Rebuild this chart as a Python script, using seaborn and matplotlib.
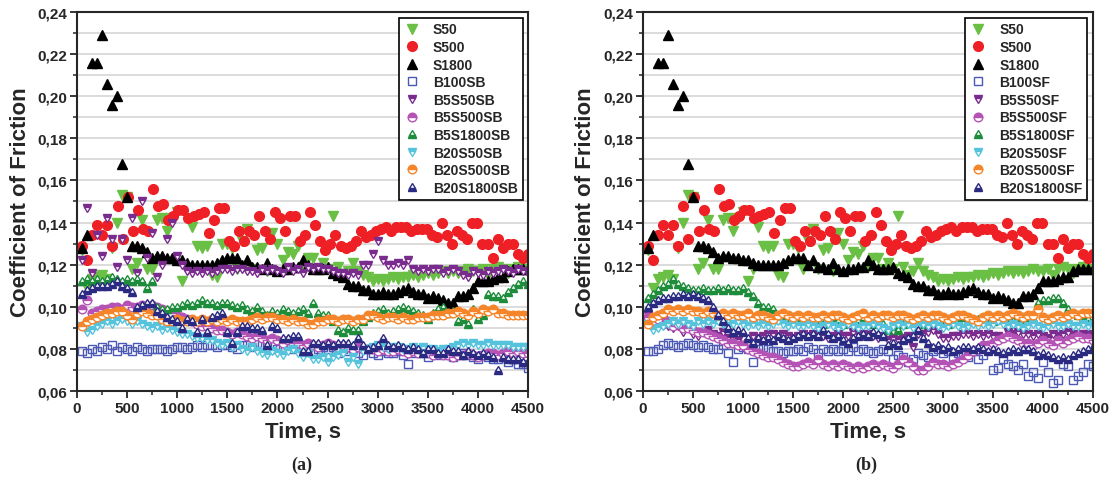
import numpy as np
import matplotlib
matplotlib.use("Agg")
import matplotlib.pyplot as plt
from matplotlib.ticker import MultipleLocator, FuncFormatter
import seaborn as sns

S50 = [0.127, 0.109, 0.113, 0.114, 0.115, 0.113, 0.128, 0.140, 0.153, 0.152,
       0.118, 0.121, 0.141, 0.118, 0.118, 0.141, 0.142, 0.136, 0.142, 0.145,
       0.112, 0.118, 0.138, 0.129, 0.128, 0.129, 0.115, 0.114, 0.130, 0.130,
       0.128, 0.118, 0.131, 0.137, 0.118, 0.127, 0.128, 0.117, 0.135, 0.130,
       0.122, 0.126, 0.125, 0.129, 0.119, 0.123, 0.123, 0.118, 0.121, 0.118,
       0.143, 0.119, 0.115, 0.117, 0.121, 0.117, 0.115, 0.114, 0.112, 0.113,
       0.112, 0.113, 0.114, 0.113, 0.114, 0.114, 0.115, 0.114, 0.115, 0.116,
       0.115, 0.116, 0.117, 0.116, 0.117, 0.116, 0.117, 0.118, 0.117, 0.117,
       0.118, 0.115, 0.118, 0.119, 0.118, 0.116, 0.118, 0.119, 0.118, 0.118]
S500 = [0.129, 0.122, 0.134, 0.139, 0.134, 0.139, 0.129, 0.148, 0.132, 0.152,
        0.136, 0.146, 0.137, 0.136, 0.156, 0.148, 0.149, 0.141, 0.143, 0.146,
        0.146, 0.142, 0.143, 0.144, 0.145, 0.135, 0.141, 0.147, 0.147, 0.131,
        0.129, 0.136, 0.131, 0.136, 0.134, 0.143, 0.136, 0.132, 0.145, 0.142,
        0.136, 0.143, 0.143, 0.131, 0.134, 0.145, 0.139, 0.131, 0.127, 0.130,
        0.134, 0.129, 0.128, 0.129, 0.131, 0.136, 0.133, 0.134, 0.136, 0.137,
        0.138, 0.136, 0.138, 0.138, 0.138, 0.136, 0.137, 0.137, 0.137, 0.134,
        0.133, 0.140, 0.134, 0.130, 0.136, 0.134, 0.132, 0.140, 0.140, 0.130,
        0.130, 0.123, 0.132, 0.128, 0.130, 0.130, 0.125, 0.123, 0.125]
S1800 = [0.128, 0.134, 0.216, 0.216, 0.229, 0.206, 0.196, 0.200, 0.168, 0.152,
         0.129, 0.129, 0.128, 0.126, 0.123, 0.124, 0.124, 0.123, 0.123, 0.122,
         0.122, 0.121, 0.120, 0.120, 0.120, 0.120, 0.120, 0.121, 0.122, 0.123,
         0.123, 0.123, 0.120, 0.122, 0.119, 0.119, 0.118, 0.121, 0.118, 0.117,
         0.118, 0.118, 0.119, 0.119, 0.122, 0.120, 0.118, 0.118, 0.118, 0.119,
         0.116, 0.115, 0.114, 0.111, 0.110, 0.110, 0.108, 0.108, 0.106, 0.106,
         0.107, 0.106, 0.106, 0.107, 0.108, 0.109, 0.107, 0.106, 0.106, 0.104,
         0.105, 0.104, 0.103, 0.102, 0.102, 0.105, 0.105, 0.106, 0.109, 0.112,
         0.112, 0.112, 0.113, 0.114, 0.114, 0.117, 0.118, 0.118, 0.118, 0.118]

# panel (a), SB series
B100SB = [0.079, 0.078, 0.080, 0.079, 0.081, 0.080, 0.082, 0.079, 0.081, 0.080,
          0.079, 0.081, 0.080, 0.079, 0.080, 0.080, 0.080, 0.079, 0.080, 0.081,
          0.081, 0.080, 0.081, 0.082, 0.081, 0.082, 0.082, 0.081, 0.082, 0.082,
          0.081, 0.080, 0.082, 0.082, 0.081, 0.083, 0.082, 0.081, 0.082, 0.080,
          0.081, 0.082, 0.080, 0.081, 0.080, 0.081, 0.079, 0.080, 0.081, 0.080,
          0.081, 0.078, 0.080, 0.079, 0.080, 0.078, 0.077, 0.080, 0.078, 0.077,
          0.079, 0.078, 0.078, 0.079, 0.077, 0.073, 0.078, 0.079, 0.078, 0.076,
          0.078, 0.077, 0.078, 0.077, 0.076, 0.077, 0.078, 0.077, 0.076, 0.075,
          0.077, 0.076, 0.075, 0.075, 0.076, 0.074, 0.075, 0.073, 0.073, 0.071]
B5S50SB = [0.122, 0.147, 0.116, 0.134, 0.124, 0.142, 0.132, 0.119, 0.132, 0.122,
           0.142, 0.116, 0.150, 0.123, 0.135, 0.114, 0.120, 0.132, 0.140, 0.124,
           0.120, 0.117, 0.116, 0.117, 0.116, 0.117, 0.116, 0.117, 0.118, 0.118,
           0.117, 0.118, 0.118, 0.117, 0.117, 0.116, 0.118, 0.117, 0.118, 0.117,
           0.116, 0.119, 0.117, 0.118, 0.116, 0.119, 0.118, 0.119, 0.118, 0.118,
           0.117, 0.116, 0.116, 0.115, 0.116, 0.115, 0.120, 0.120, 0.125, 0.131,
           0.122, 0.120, 0.120, 0.121, 0.120, 0.122, 0.118, 0.117, 0.118, 0.117,
           0.118, 0.118, 0.116, 0.117, 0.118, 0.117, 0.115, 0.114, 0.117, 0.116,
           0.115, 0.117, 0.116, 0.117, 0.118, 0.117, 0.116, 0.118, 0.117, 0.116]
B5S500SB = [0.099, 0.103, 0.097, 0.098, 0.099, 0.099, 0.100, 0.100, 0.099, 0.101,
            0.100, 0.100, 0.101, 0.100, 0.101, 0.100, 0.099, 0.098, 0.097, 0.096,
            0.095, 0.094, 0.093, 0.092, 0.091, 0.091, 0.090, 0.089, 0.089, 0.088,
            0.087, 0.088, 0.087, 0.086, 0.085, 0.086, 0.085, 0.084, 0.085, 0.084,
            0.083, 0.084, 0.083, 0.083, 0.082, 0.083, 0.082, 0.081, 0.082, 0.083,
            0.082, 0.081, 0.082, 0.081, 0.080, 0.081, 0.080, 0.080, 0.080, 0.079,
            0.080, 0.079, 0.079, 0.080, 0.079, 0.078, 0.079, 0.078, 0.079, 0.078,
            0.077, 0.078, 0.077, 0.077, 0.076, 0.077, 0.077, 0.078, 0.077, 0.076,
            0.077, 0.078, 0.078, 0.077, 0.078, 0.079, 0.078, 0.079, 0.078, 0.078]
B5S1800SB = [0.112, 0.113, 0.112, 0.113, 0.112, 0.113, 0.114, 0.113, 0.112, 0.113,
             0.112, 0.113, 0.112, 0.109, 0.112, 0.100, 0.099, 0.099, 0.100, 0.100,
             0.101, 0.102, 0.101, 0.102, 0.103, 0.102, 0.102, 0.101, 0.102, 0.102,
             0.101, 0.100, 0.101, 0.099, 0.098, 0.100, 0.098, 0.096, 0.098, 0.097,
             0.099, 0.098, 0.097, 0.098, 0.099, 0.097, 0.102, 0.097, 0.096, 0.096,
             0.093, 0.089, 0.088, 0.090, 0.089, 0.089, 0.093, 0.095, 0.097, 0.098,
             0.099, 0.097, 0.098, 0.099, 0.100, 0.099, 0.098, 0.097, 0.096, 0.094,
             0.097, 0.099, 0.100, 0.097, 0.098, 0.093, 0.094, 0.092, 0.099, 0.094,
             0.096, 0.106, 0.105, 0.105, 0.104, 0.107, 0.109, 0.111, 0.112, 0.111]
B20S50SB = [0.091, 0.088, 0.089, 0.091, 0.092, 0.093, 0.092, 0.093, 0.094, 0.093,
            0.092, 0.093, 0.092, 0.091, 0.090, 0.091, 0.089, 0.090, 0.089, 0.088,
            0.087, 0.087, 0.086, 0.085, 0.085, 0.084, 0.084, 0.083, 0.082, 0.083,
            0.081, 0.082, 0.080, 0.079, 0.081, 0.079, 0.078, 0.077, 0.079, 0.078,
            0.077, 0.079, 0.080, 0.078, 0.076, 0.078, 0.075, 0.075, 0.076, 0.074,
            0.076, 0.077, 0.078, 0.074, 0.076, 0.073, 0.079, 0.080, 0.081, 0.082,
            0.081, 0.080, 0.081, 0.081, 0.080, 0.080, 0.081, 0.080, 0.081, 0.080,
            0.080, 0.079, 0.080, 0.080, 0.081, 0.082, 0.083, 0.082, 0.083, 0.082,
            0.082, 0.083, 0.082, 0.082, 0.082, 0.082, 0.081, 0.081, 0.081, 0.081]
B20S500SB = [0.091, 0.093, 0.094, 0.095, 0.096, 0.097, 0.097, 0.098, 0.098, 0.096,
             0.094, 0.097, 0.098, 0.097, 0.096, 0.096, 0.094, 0.093, 0.093, 0.094,
             0.093, 0.093, 0.094, 0.093, 0.094, 0.093, 0.094, 0.093, 0.094, 0.093,
             0.094, 0.093, 0.093, 0.093, 0.094, 0.095, 0.094, 0.095, 0.095, 0.094,
             0.094, 0.093, 0.094, 0.093, 0.093, 0.092, 0.092, 0.093, 0.093, 0.094,
             0.094, 0.093, 0.094, 0.094, 0.093, 0.094, 0.094, 0.096, 0.096, 0.095,
             0.094, 0.095, 0.095, 0.094, 0.095, 0.094, 0.094, 0.095, 0.095, 0.095,
             0.096, 0.096, 0.096, 0.097, 0.097, 0.098, 0.097, 0.096, 0.098, 0.097,
             0.099, 0.098, 0.099, 0.097, 0.097, 0.096, 0.096, 0.096, 0.096, 0.096]
B20S1800SB = [0.106, 0.108, 0.109, 0.110, 0.110, 0.110, 0.111, 0.112, 0.110, 0.109,
              0.107, 0.100, 0.101, 0.102, 0.102, 0.098, 0.097, 0.095, 0.094, 0.093,
              0.090, 0.094, 0.093, 0.088, 0.094, 0.088, 0.095, 0.096, 0.097, 0.088,
              0.083, 0.088, 0.091, 0.091, 0.090, 0.090, 0.089, 0.082, 0.091, 0.090,
              0.085, 0.085, 0.086, 0.086, 0.079, 0.079, 0.083, 0.083, 0.082, 0.083,
              0.082, 0.083, 0.083, 0.083, 0.082, 0.085, 0.082, 0.080, 0.081, 0.082,
              0.085, 0.082, 0.081, 0.082, 0.081, 0.080, 0.081, 0.080, 0.078, 0.080,
              0.080, 0.078, 0.078, 0.080, 0.079, 0.079, 0.077, 0.079, 0.078, 0.077,
              0.078, 0.077, 0.076, 0.070, 0.076, 0.075, 0.075, 0.075, 0.074, 0.074]

# panel (b), SF series
B100SF = [0.079, 0.079, 0.080, 0.082, 0.083, 0.082, 0.081, 0.082, 0.083, 0.082,
          0.081, 0.082, 0.081, 0.080, 0.080, 0.082, 0.078, 0.074, 0.080, 0.081,
          0.080, 0.074, 0.080, 0.081, 0.080, 0.079, 0.079, 0.078, 0.079, 0.079,
          0.080, 0.079, 0.081, 0.080, 0.078, 0.080, 0.079, 0.080, 0.079, 0.080,
          0.079, 0.081, 0.079, 0.080, 0.079, 0.078, 0.079, 0.080, 0.079, 0.075,
          0.077, 0.076, 0.074, 0.075, 0.078, 0.077, 0.076, 0.079, 0.080, 0.078,
          0.079, 0.076, 0.078, 0.077, 0.076, 0.079, 0.075, 0.077, 0.080, 0.070,
          0.071, 0.075, 0.073, 0.072, 0.070, 0.073, 0.067, 0.069, 0.066, 0.074,
          0.069, 0.064, 0.065, 0.073, 0.072, 0.065, 0.067, 0.069, 0.073, 0.072]
B5S50SF = [0.096, 0.093, 0.092, 0.094, 0.091, 0.090, 0.091, 0.088, 0.090, 0.087,
           0.086, 0.088, 0.089, 0.087, 0.086, 0.088, 0.085, 0.087, 0.084, 0.082,
           0.083, 0.086, 0.085, 0.086, 0.087, 0.087, 0.086, 0.087, 0.086, 0.085,
           0.086, 0.087, 0.086, 0.087, 0.086, 0.086, 0.085, 0.086, 0.087, 0.086,
           0.086, 0.088, 0.087, 0.086, 0.087, 0.086, 0.085, 0.086, 0.084, 0.085,
           0.084, 0.085, 0.086, 0.081, 0.087, 0.087, 0.088, 0.089, 0.087, 0.085,
           0.085, 0.086, 0.086, 0.087, 0.087, 0.086, 0.087, 0.086, 0.087, 0.086,
           0.086, 0.085, 0.088, 0.087, 0.088, 0.087, 0.087, 0.086, 0.087, 0.086,
           0.085, 0.087, 0.086, 0.087, 0.088, 0.087, 0.086, 0.087, 0.087, 0.086]
B5S500SF = [0.095, 0.093, 0.094, 0.092, 0.093, 0.091, 0.092, 0.090, 0.090, 0.089,
            0.088, 0.088, 0.087, 0.086, 0.085, 0.084, 0.083, 0.083, 0.082, 0.082,
            0.080, 0.079, 0.078, 0.077, 0.076, 0.076, 0.075, 0.074, 0.073, 0.072,
            0.072, 0.073, 0.074, 0.073, 0.075, 0.073, 0.072, 0.073, 0.072, 0.073,
            0.072, 0.071, 0.072, 0.071, 0.072, 0.073, 0.072, 0.073, 0.072, 0.071,
            0.073, 0.075, 0.074, 0.072, 0.070, 0.070, 0.072, 0.074, 0.073, 0.073,
            0.072, 0.073, 0.074, 0.075, 0.077, 0.079, 0.080, 0.082, 0.082, 0.083,
            0.084, 0.085, 0.086, 0.085, 0.084, 0.083, 0.083, 0.082, 0.083, 0.084,
            0.083, 0.082, 0.084, 0.083, 0.084, 0.085, 0.086, 0.085, 0.085, 0.084]
B5S1800SF = [0.104, 0.106, 0.108, 0.110, 0.111, 0.113, 0.111, 0.110, 0.109, 0.108,
             0.108, 0.109, 0.108, 0.108, 0.109, 0.108, 0.109, 0.108, 0.108, 0.109,
             0.107, 0.105, 0.102, 0.100, 0.100, 0.099, 0.096, 0.095, 0.094, 0.095,
             0.094, 0.093, 0.094, 0.094, 0.093, 0.092, 0.093, 0.094, 0.093, 0.092,
             0.093, 0.094, 0.093, 0.094, 0.093, 0.092, 0.093, 0.092, 0.089, 0.091,
             0.089, 0.092, 0.093, 0.094, 0.093, 0.092, 0.093, 0.094, 0.093, 0.094,
             0.092, 0.093, 0.094, 0.095, 0.094, 0.093, 0.094, 0.095, 0.094, 0.093,
             0.094, 0.095, 0.094, 0.093, 0.094, 0.093, 0.095, 0.094, 0.102, 0.103,
             0.103, 0.104, 0.104, 0.102, 0.099, 0.097, 0.096, 0.095, 0.094, 0.093]
B20S50SF = [0.092, 0.089, 0.090, 0.091, 0.092, 0.093, 0.092, 0.093, 0.092, 0.091,
            0.093, 0.092, 0.093, 0.092, 0.093, 0.092, 0.091, 0.092, 0.093, 0.092,
            0.091, 0.092, 0.091, 0.092, 0.091, 0.092, 0.093, 0.092, 0.091, 0.092,
            0.091, 0.091, 0.092, 0.091, 0.090, 0.091, 0.092, 0.091, 0.090, 0.091,
            0.092, 0.091, 0.090, 0.091, 0.091, 0.092, 0.091, 0.090, 0.089, 0.091,
            0.092, 0.091, 0.092, 0.090, 0.091, 0.092, 0.091, 0.092, 0.091, 0.090,
            0.091, 0.092, 0.091, 0.090, 0.091, 0.092, 0.091, 0.092, 0.091, 0.092,
            0.093, 0.092, 0.091, 0.092, 0.091, 0.090, 0.091, 0.092, 0.091, 0.090,
            0.091, 0.092, 0.091, 0.091, 0.092, 0.091, 0.091, 0.092, 0.091, 0.092]
B20S500SF = [0.092, 0.095, 0.096, 0.097, 0.099, 0.098, 0.099, 0.098, 0.099, 0.098,
             0.098, 0.097, 0.098, 0.097, 0.096, 0.097, 0.096, 0.097, 0.096, 0.096,
             0.097, 0.095, 0.096, 0.096, 0.095, 0.094, 0.096, 0.097, 0.096, 0.095,
             0.096, 0.095, 0.096, 0.095, 0.095, 0.096, 0.095, 0.096, 0.096, 0.095,
             0.094, 0.095, 0.096, 0.097, 0.095, 0.096, 0.095, 0.096, 0.096, 0.095,
             0.096, 0.096, 0.095, 0.094, 0.095, 0.096, 0.095, 0.096, 0.096, 0.095,
             0.094, 0.095, 0.096, 0.096, 0.095, 0.094, 0.093, 0.095, 0.096, 0.095,
             0.096, 0.095, 0.096, 0.097, 0.096, 0.095, 0.096, 0.096, 0.099, 0.095,
             0.094, 0.095, 0.096, 0.095, 0.096, 0.097, 0.096, 0.097, 0.097, 0.097]
B20S1800SF = [0.100, 0.102, 0.103, 0.104, 0.104, 0.105, 0.105, 0.106, 0.105, 0.106,
              0.105, 0.104, 0.103, 0.100, 0.096, 0.093, 0.090, 0.088, 0.089, 0.088,
              0.085, 0.083, 0.085, 0.084, 0.085, 0.084, 0.086, 0.085, 0.084, 0.085,
              0.086, 0.087, 0.086, 0.087, 0.086, 0.089, 0.087, 0.085, 0.086, 0.084,
              0.083, 0.085, 0.086, 0.087, 0.086, 0.088, 0.087, 0.086, 0.082, 0.083,
              0.082, 0.084, 0.085, 0.086, 0.089, 0.085, 0.083, 0.081, 0.082, 0.080,
              0.081, 0.079, 0.080, 0.081, 0.081, 0.080, 0.081, 0.080, 0.079, 0.080,
              0.079, 0.078, 0.079, 0.080, 0.079, 0.080, 0.080, 0.079, 0.077, 0.078,
              0.077, 0.076, 0.075, 0.076, 0.075, 0.077, 0.078, 0.079, 0.080, 0.081]

T_START, T_END = 50, 4500

# (label, values, marker, colour, fillstyle)
panel_a = [
    ("S50", S50, "v", "#6abf45", "full"),
    ("S500", S500, "o", "#ee2025", "full"),
    ("S1800", S1800, "^", "#000000", "full"),
    ("B100SB", B100SB, "s", "#4b58b5", "none"),
    ("B5S50SB", B5S50SB, "v", "#7a2b8e", "top"),
    ("B5S500SB", B5S500SB, "o", "#b552b5", "top"),
    ("B5S1800SB", B5S1800SB, "^", "#1d8c3b", "bottom"),
    ("B20S50SB", B20S50SB, "v", "#56c3dc", "top"),
    ("B20S500SB", B20S500SB, "o", "#f5852a", "top"),
    ("B20S1800SB", B20S1800SB, "^", "#2a2a82", "bottom"),
]
panel_b = [
    ("S50", S50, "v", "#6abf45", "full"),
    ("S500", S500, "o", "#ee2025", "full"),
    ("S1800", S1800, "^", "#000000", "full"),
    ("B100SF", B100SF, "s", "#4b58b5", "none"),
    ("B5S50SF", B5S50SF, "v", "#7a2b8e", "top"),
    ("B5S500SF", B5S500SF, "o", "#b552b5", "top"),
    ("B5S1800SF", B5S1800SF, "^", "#1d8c3b", "bottom"),
    ("B20S50SF", B20S50SF, "v", "#56c3dc", "top"),
    ("B20S500SF", B20S500SF, "o", "#f5852a", "top"),
    ("B20S1800SF", B20S1800SF, "^", "#2a2a82", "bottom"),
]

sns.set_style("ticks")
plt.rcParams['font.family'] = ['Liberation Sans', 'DejaVu Sans']
plt.rcParams['font.weight'] = 'bold'

fig = plt.figure(figsize=(11.15, 4.85), dpi=100)
ax_a = fig.add_axes([0.0691, 0.1918, 0.4045, 0.7814])
ax_b = fig.add_axes([0.5767, 0.1918, 0.4036, 0.7814])


def draw_panel(ax, series, tag, tag_x):
    for name, vals, mk, col, fs in series:
        t = np.linspace(T_START, T_END, len(vals))
        face = "none" if fs == "none" else col
        sns.lineplot(x=t, y=vals, ax=ax, linestyle="", marker=mk,
                     markersize=7 if fs == "full" else 6.2,
                     color=col, markeredgecolor=col, markerfacecolor=face,
                     fillstyle=fs, markerfacecoloralt="white",
                     markeredgewidth=1.0, label=name)

    ax.set_xlim(0, 4500)
    ax.set_ylim(0.06, 0.24)
    ax.xaxis.set_major_locator(MultipleLocator(500))
    ax.xaxis.set_minor_locator(MultipleLocator(250))
    ax.yaxis.set_major_locator(MultipleLocator(0.02))
    ax.yaxis.set_minor_locator(MultipleLocator(0.01))
    ax.yaxis.set_major_formatter(FuncFormatter(lambda v, p: f"{v:.2f}".replace(".", ",")))
    ax.grid(which="both", axis="y", color="#d6d6d6", lw=1.2)
    ax.grid(which="both", axis="x", visible=False)
    ax.set_axisbelow(True)
    for sp in ax.spines.values():
        sp.set_linewidth(1.5)
        sp.set_visible(True)
    ax.tick_params(which="major", direction="out", length=5, width=1.3,
                   labelsize=11, pad=2)
    ax.tick_params(which="minor", direction="out", length=3, width=1.1)
    for lab in ax.get_xticklabels() + ax.get_yticklabels():
        lab.set_fontweight("bold")

    ax.set_xlabel("Time, s", fontsize=16, fontweight="bold", labelpad=4)
    ax.set_ylabel("Coefficient of Friction", fontsize=16, fontweight="bold", labelpad=5)

    leg = ax.legend(loc="upper right", frameon=True, fancybox=False, edgecolor="black",
                    prop={"weight": "bold", "size": 10}, labelspacing=0.26,
                    handlelength=1.2, handletextpad=0.9, borderpad=0.35,
                    borderaxespad=0.4, framealpha=1)
    leg.get_frame().set_linewidth(1.2)

    fig.text(tag_x, 0.04, tag, ha="center", va="center", fontsize=13,
             fontweight="bold", family=["Liberation Serif", "DejaVu Serif"])


draw_panel(ax_a, panel_a, "(a)", 0.271)
draw_panel(ax_b, panel_b, "(b)", 0.777)

fig.savefig("out.png", dpi=100)
